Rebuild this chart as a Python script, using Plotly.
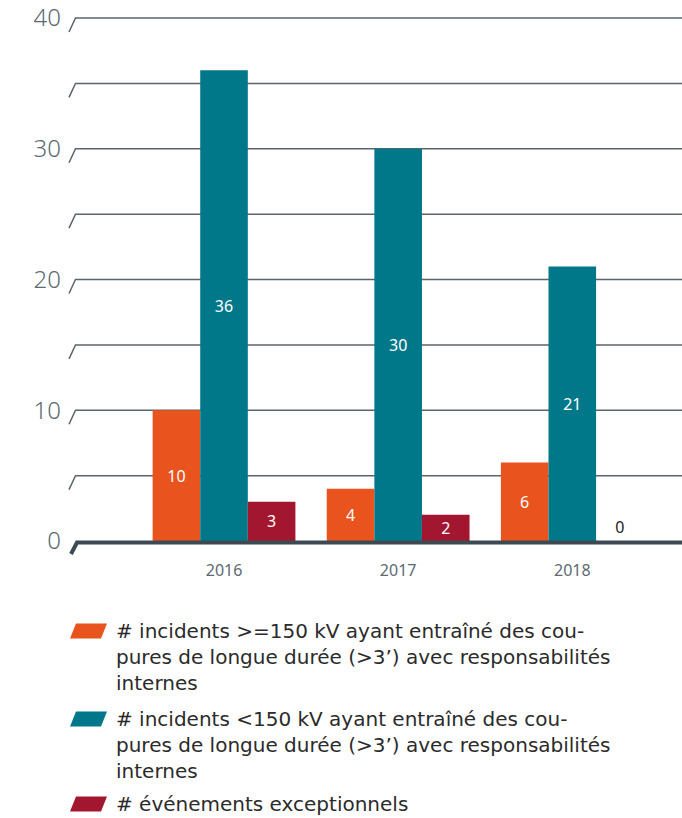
import plotly.graph_objects as go

years = ["2016", "2017", "2018"]
s1_lines = ["# incidents >=150 kV ayant entraîné des cou-", "pures de longue durée (>3’) avec responsabilités", "internes"]
s2_lines = ["# incidents <150 kV ayant entraîné des cou-", "pures de longue durée (>3’) avec responsabilités", "internes"]
s3_lines = ["# événements exceptionnels"]
s1 = [10, 4, 6]
s2 = [36, 30, 21]
s3 = [3, 2, 0]
colors = ["#E8531E", "#00788A", "#A3162F"]
y_ticks = [0, 10, 20, 30, 40]
grid_vals = [5, 10, 15, 20, 25, 30, 35, 40]

W, H = 682, 818
L, R, T, B = 76, 0, 18, 277
PW, PH = W - L - R, H - T - B
YMAX = 40
FONT = "Noto Sans"
LFONT = "DejaVu Sans"
GRAY = "#5d6a72"

def px_x(px):
    return (px - L) / PW

def val_y(v):
    return v / YMAX

def px_dy(d):
    return d / PH

def px_y(py):
    return (H - B - py) / PH

fig = go.Figure()
for lines, vals, col in [(s1_lines, s1, colors[0]), (s2_lines, s2, colors[1]), (s3_lines, s3, colors[2])]:
    fig.add_trace(go.Bar(
        x=years, y=vals, name=" ".join(lines), marker=dict(color=col, line=dict(width=0)),
        text=[str(v) for v in vals],
        textposition=["inside" if v > 0 else "outside" for v in vals],
        insidetextanchor="middle",
        insidetextfont=dict(color="white", size=16, family=FONT),
        outsidetextfont=dict(color="#222222", size=16, family=FONT),
        textangle=0, cliponaxis=False, showlegend=False, hoverinfo="skip",
    ))

shapes = []
for v in grid_vals:
    y = val_y(v)
    shapes.append(dict(type="path", xref="paper", yref="paper", layer="below",
                       path=f"M {px_x(69)},{y - px_dy(14)} L {px_x(75.5)},{y} L 1,{y}",
                       line=dict(color="#5a656c", width=1.5)))
# zero axis line
y0 = val_y(0)
shapes.append(dict(type="path", xref="paper", yref="paper", layer="above",
                   path=f"M {px_x(71)},{y0 - px_dy(13)} L {px_x(77)},{y0 - px_dy(1.5)} L 1,{y0 - px_dy(1.5)}",
                   line=dict(color="#3d4a52", width=4)))

# manual legend
leg = [(s1_lines, colors[0], 631), (s2_lines, colors[1], 719), (s3_lines, colors[2], 804)]
annotations = []
for lines, col, py in leg:
    yc = px_y(py)
    shapes.append(dict(type="path", xref="paper", yref="paper",
                       path=(f"M {px_x(70)},{yc - px_dy(7.5)} L {px_x(101)},{yc - px_dy(7.5)} "
                             f"L {px_x(107)},{yc + px_dy(7.5)} L {px_x(76)},{yc + px_dy(7.5)} Z"),
                       fillcolor=col, line=dict(width=0)))
    n = len(lines)
    annotations.append(dict(xref="paper", yref="paper", x=px_x(115), y=px_y(py + 13 * (n - 1)),
                            xanchor="left", yanchor="middle", align="left", showarrow=False,
                            text="<br>".join(lines), borderpad=0,
                            font=dict(family=LFONT, size=20, color="#2b2b2b")))

fig.update_layout(
    width=W, height=H, margin=dict(l=L, r=R, t=T, b=B),
    paper_bgcolor="white", plot_bgcolor="white",
    barmode="group", bargap=0.18, bargroupgap=0,
    shapes=shapes, annotations=annotations, showlegend=False,
    uniformtext=dict(minsize=16, mode="show"),
    font=dict(family=FONT),
)
fig.update_xaxes(type="category", range=[-0.85, 2.63], showgrid=False, zeroline=False,
                 showline=False, ticks="", tickfont=dict(size=16, color=GRAY, family=FONT),
                 ticklabelstandoff=18)
fig.update_yaxes(range=[0, YMAX], tickvals=y_ticks, showgrid=False, zeroline=False,
                 showline=False, ticks="", tickfont=dict(size=24, color=GRAY, family=FONT, weight=300),
                 ticklabelstandoff=14)

fig.write_html("out.html", config={"displayModeBar": False},
               post_script="document.body.style.margin='0';document.body.style.overflow='hidden';")
